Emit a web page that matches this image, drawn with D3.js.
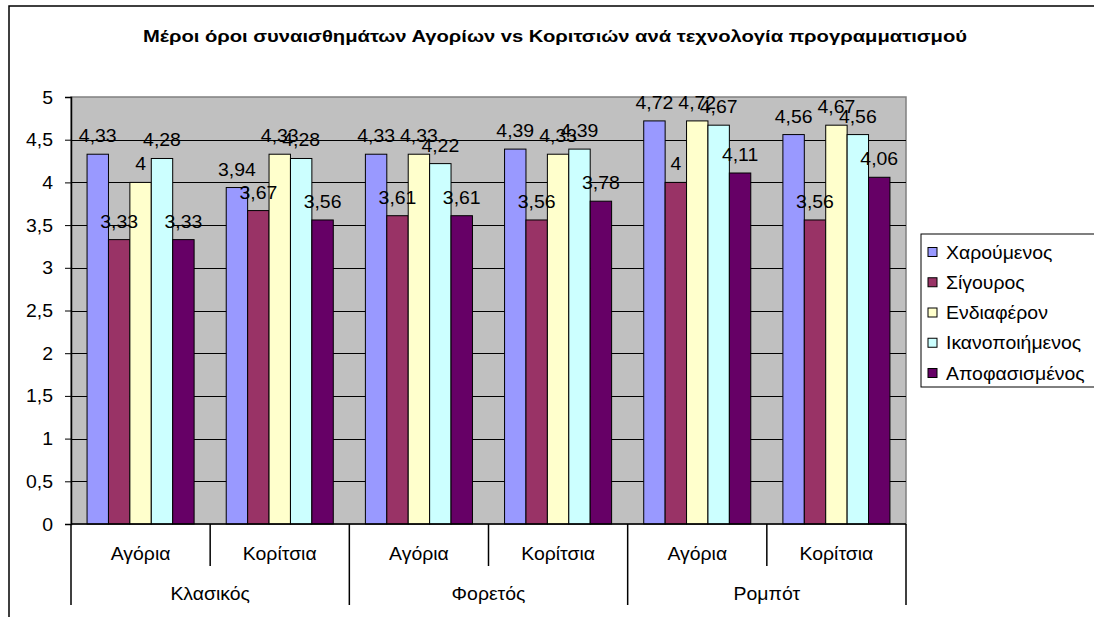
<!DOCTYPE html>
<html>
<head>
<meta charset="utf-8">
<script src="https://cdn.jsdelivr.net/npm/d3@7"></script>
<style>
  body { margin: 0; background: #fff; }
  svg { display: block; font-family: "Liberation Sans", Arial, sans-serif; }
</style>
</head>
<body>
<svg id="chart" width="1094" height="617"></svg>
<script>
"use strict";

// chart data
const title = "Μέροι όροι συναισθημάτων Αγορίων vs Κοριτσιών ανά τεχνολογία προγραμματισμού";
const groups = ["Κλασικός", "Φορετός", "Ρομπότ"];
const subgroups = ["Αγόρια", "Κορίτσια"];
const seriesNames = ["Χαρούμενος", "Σίγουρος", "Ενδιαφέρον", "Ικανοποιήμενος", "Αποφασισμένος"];
const seriesColors = ["#9999FF", "#993366", "#FFFFCC", "#CCFFFF", "#660066"];
// one value per category (group x subgroup), per series
const xaroumenos = [4.33, 3.94, 4.33, 4.39, 4.72, 4.56];
const sigouros = [3.33, 3.67, 3.61, 3.56, 4, 3.56];
const endiaferon = [4, 4.33, 4.33, 4.33, 4.72, 4.67];
const ikanopoiimenos = [4.28, 4.28, 4.22, 4.39, 4.67, 4.56];
const apofasismenos = [3.33, 3.56, 3.61, 3.78, 4.11, 4.06];
const yTicks = [0, 0.5, 1, 1.5, 2, 2.5, 3, 3.5, 4, 4.5, 5];

const seriesValues = [xaroumenos, sigouros, endiaferon, ikanopoiimenos, apofasismenos];

// categories = every group/subgroup pair
const categories = [];
groups.forEach(g => subgroups.forEach(s => categories.push(g + "|" + s)));

const svg = d3.select("#chart");

// plot area bounds
const plot = { left: 71, right: 906, top: 97, bottom: 524 };

const x = d3.scaleBand().domain(categories).range([plot.left, plot.right]);
const xs = d3.scaleBand().domain(seriesNames).range([0, x.bandwidth()]).paddingOuter(0.75);
const y = d3.scaleLinear().domain([0, 5]).range([plot.bottom, plot.top]);

const fmt = v => String(v).replace(".", ",");

// text in the original is a bit wider than the font, so stretch it a little
const FS = 18, SX = 1.08;
function label(sel, px, py, anchor) {
    return sel.append("text")
        .attr("transform", `translate(${px},${py}) scale(${SX},1)`)
        .attr("text-anchor", anchor || "middle")
        .attr("font-size", FS);
}

// outer chart border
svg.append("rect")
    .attr("x", 9).attr("y", 6)
    .attr("width", 1200).attr("height", 700)
    .attr("fill", "none").attr("stroke", "#000").attr("stroke-width", 1.5);

// title
svg.append("text")
    .attr("x", 143).attr("y", 42)
    .attr("font-size", 16).attr("font-weight", "bold")
    .attr("textLength", 824).attr("lengthAdjust", "spacingAndGlyphs")
    .text(title);

// plot background
svg.append("rect")
    .attr("x", plot.left).attr("y", plot.top)
    .attr("width", plot.right - plot.left).attr("height", plot.bottom - plot.top)
    .attr("fill", "#C0C0C0").attr("stroke", "#808080").attr("stroke-width", 1.5);

// gridlines
svg.append("g")
    .selectAll("line")
    .data(yTicks.filter(t => t > 0 && t < 5))
    .join("line")
    .attr("x1", plot.left).attr("x2", plot.right)
    .attr("y1", d => Math.round(y(d)) + 0.5).attr("y2", d => Math.round(y(d)) + 0.5)
    .attr("stroke", "#000").attr("stroke-width", 1);

// y axis (line + ticks), labels drawn separately
const yAxis = svg.append("g")
    .attr("transform", `translate(${plot.left},0)`)
    .call(d3.axisLeft(y).tickValues(yTicks).tickSize(6).tickFormat(""));
yAxis.select(".domain").attr("stroke", "#000").attr("stroke-width", 1.5);
yAxis.selectAll(".tick line").attr("stroke", "#000");

const yLab = svg.append("g");
yTicks.forEach(t => {
    label(yLab, 53, y(t) + 6.5, "end").text(fmt(t));
});

// bars
const barData = [];
seriesNames.forEach((name, si) => {
    seriesValues[si].forEach((v, ci) => {
        barData.push({ series: name, color: seriesColors[si], cat: categories[ci], value: v });
    });
});

svg.append("g")
    .selectAll("rect")
    .data(barData)
    .join("rect")
    .attr("x", d => x(d.cat) + xs(d.series))
    .attr("y", d => y(d.value))
    .attr("width", xs.bandwidth())
    .attr("height", d => y(0) - y(d.value))
    .attr("fill", d => d.color)
    .attr("stroke", "#000").attr("stroke-width", 1);

// value labels
const valLab = svg.append("g");
barData.forEach(d => {
    label(valLab, x(d.cat) + xs(d.series) + xs.bandwidth() / 2, y(d.value) - 12).text(fmt(d.value));
});

// x axis line
svg.append("line")
    .attr("x1", plot.left).attr("x2", plot.right)
    .attr("y1", plot.bottom).attr("y2", plot.bottom)
    .attr("stroke", "#000").attr("stroke-width", 1.5);

// category separators: short between subgroups, long between groups
const nSub = subgroups.length;
const sepX = d3.range(categories.length + 1);
svg.append("g")
    .selectAll("line")
    .data(sepX)
    .join("line")
    .attr("x1", i => i < categories.length ? x(categories[i]) : plot.right)
    .attr("x2", i => i < categories.length ? x(categories[i]) : plot.right)
    .attr("y1", plot.bottom)
    .attr("y2", i => i % nSub === 0 ? 605 : 566)
    .attr("stroke", "#000").attr("stroke-width", 1.5);

// subgroup labels
const subLab = svg.append("g");
categories.forEach(c => {
    label(subLab, x(c) + x.bandwidth() / 2, 560).text(c.split("|")[1]);
});

// group labels
const grpLab = svg.append("g");
groups.forEach(g => {
    label(grpLab, x(g + "|" + subgroups[0]) + x.bandwidth() * nSub / 2, 600).text(g);
});

// legend
const legend = svg.append("g");
legend.append("rect")
    .attr("x", 921).attr("y", 234)
    .attr("width", 200).attr("height", 153)
    .attr("fill", "#fff").attr("stroke", "#000").attr("stroke-width", 1);

const rowY = d3.scalePoint().domain(seriesNames).range([252, 373]);
seriesNames.forEach((name, i) => {
    legend.append("rect")
        .attr("x", 928).attr("y", rowY(name) - 4.5)
        .attr("width", 9).attr("height", 9)
        .attr("fill", seriesColors[i])
        .attr("stroke", "#000").attr("stroke-width", 1);
    label(legend, 946, rowY(name) + 6.5, "start").text(name);
});
</script>
</body>
</html>
